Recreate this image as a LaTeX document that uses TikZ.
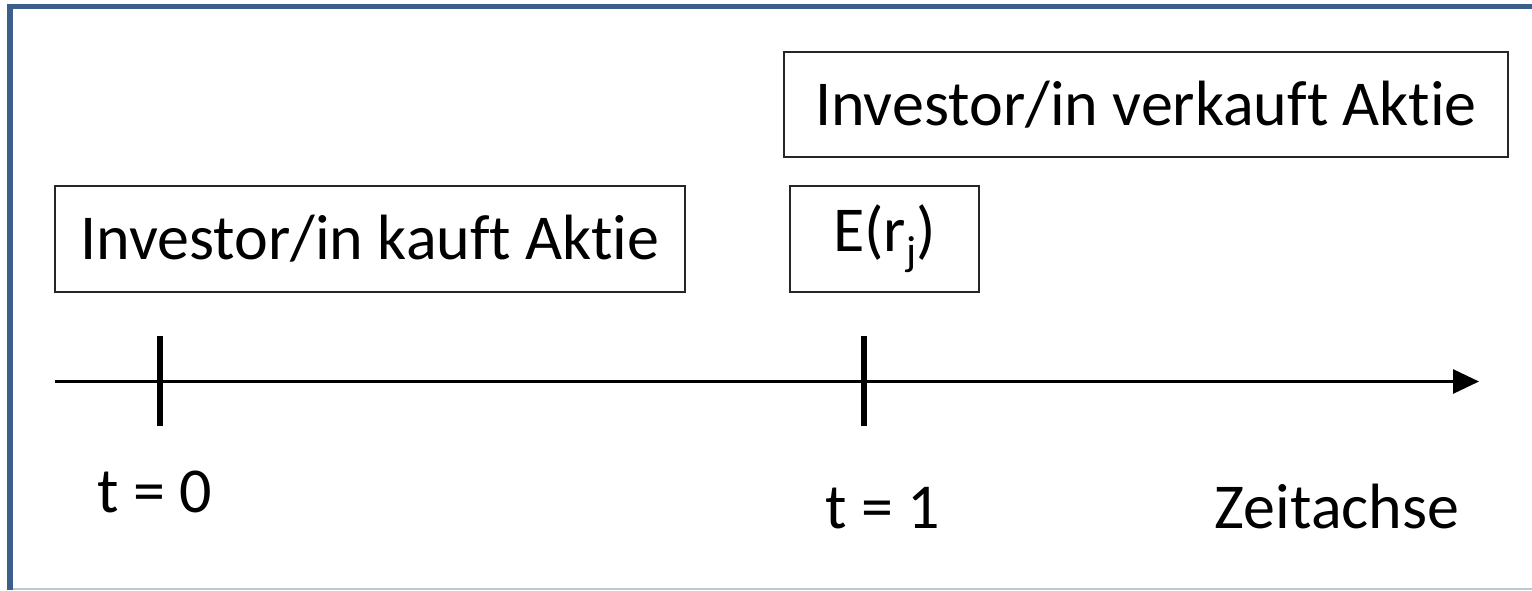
\documentclass[tikz,border=0pt]{standalone}
\usepackage{fontspec}
\setmainfont{Carlito}[Ligatures={NoCommon}]
\usetikzlibrary{arrows.meta}
\definecolor{frameblue}{RGB}{58,95,139}
\definecolor{framegray}{RGB}{190,200,212}
\begin{document}
\begin{tikzpicture}[x=1pt,y=-1pt,
  txt/.style={font=\fontsize{64}{77}\selectfont, inner sep=0pt},
  box/.style={txt, draw=black!85, line width=2pt, minimum height=106pt},
  axisline/.style={line width=3pt, -{Triangle[length=26pt,width=24pt]}},
  tickline/.style={line width=6pt}]
\useasboundingbox (0,0) rectangle (1532,590);
% frame
\draw[frameblue, line width=5.3pt] (10,590) -- (10,6.7) -- (1532,6.7);
\draw[framegray, line width=1.5pt] (12.5,589.2) -- (1532,589.2);
% boxes
\node[box, minimum width=630pt] (buy) at (370,239) {Investor/in kauft Aktie};
\node[box, minimum width=189pt] (exp) at (884.5,239) {E(r\raisebox{-14pt}{\fontsize{42}{42}\selectfont j})};
\node[box, minimum width=724pt, minimum height=105pt] (sell) at (1146,104.5) {Investor/in verkauft Aktie};
% axis
\coordinate (axstart) at (55,381.5);
\coordinate (axend) at (1479,381.5);
\draw[axisline] (axstart) -- (axend);
\coordinate (t0top) at (160,336);
\coordinate (t0bot) at (160,426);
\coordinate (t1top) at (864,336);
\coordinate (t1bot) at (864,426);
\draw[tickline] (t0top) -- (t0bot);
\draw[tickline] (t1top) -- (t1bot);
% labels
\node[txt, anchor=base] (l0) at (155,512) {t = 0};
\node[txt, anchor=base] (l1) at (883,528) {t = 1};
\node[txt, anchor=base] (lz) at (1337,528) {Zeitachse};
\end{tikzpicture}
\end{document}
